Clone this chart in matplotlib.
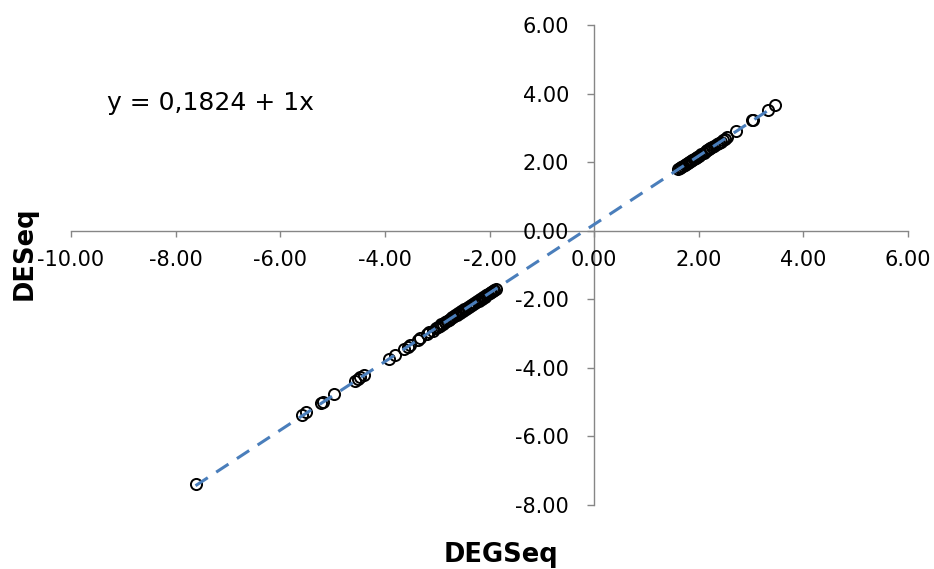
import matplotlib
matplotlib.use("Agg")
import matplotlib.pyplot as plt
import numpy as np
from matplotlib.ticker import FormatStrFormatter

# ---- data ----
x_low_sparse = [-7.62, -5.58, -5.51, -5.22, -5.19, -4.97, -4.58, -4.52, -4.47, -4.40,
                -3.92, -3.80, -3.63, -3.56, -3.52, -3.37, -3.33, -3.20, -3.15]
y_low_sparse = [-7.38, -5.38, -5.30, -5.03, -4.99, -4.77, -4.38, -4.33, -4.27, -4.21,
                -3.73, -3.62, -3.45, -3.38, -3.33, -3.19, -3.14, -3.01, -2.96]

x_low_dense = [-3.08, -3.03, -2.99, -2.95, -2.92, -2.88, -2.85, -2.81, -2.78, -2.75,
               -2.72, -2.69, -2.66, -2.63, -2.60, -2.57, -2.54, -2.51, -2.48, -2.45,
               -2.42, -2.39, -2.36, -2.33, -2.30, -2.27, -2.24, -2.21, -2.18, -2.15,
               -2.12, -2.09, -2.06, -2.03, -2.00, -1.97, -1.94, -1.91, -1.88]
y_low_dense = [-2.92, -2.83, -2.80, -2.79, -2.73, -2.71, -2.66, -2.64, -2.59, -2.58,
               -2.53, -2.52, -2.47, -2.46, -2.41, -2.40, -2.35, -2.34, -2.29, -2.28,
               -2.23, -2.22, -2.17, -2.16, -2.11, -2.10, -2.05, -2.04, -1.99, -1.98,
               -1.93, -1.92, -1.87, -1.86, -1.81, -1.80, -1.76, -1.73, -1.70]

x_up_dense = [1.61, 1.64, 1.67, 1.70, 1.73, 1.76, 1.79, 1.82, 1.85, 1.88, 1.91, 1.94,
              1.97, 2.00, 2.05, 2.10, 2.13, 2.16, 2.19, 2.22, 2.26, 2.30, 2.34, 2.38,
              2.42, 2.46, 2.50, 2.54]
y_up_dense = [1.80, 1.83, 1.85, 1.88, 1.92, 1.94, 1.97, 2.01, 2.03, 2.06, 2.10, 2.12,
              2.15, 2.18, 2.23, 2.28, 2.32, 2.34, 2.37, 2.41, 2.44, 2.48, 2.52, 2.56,
              2.60, 2.64, 2.68, 2.72]

x_up_sparse = [2.71, 3.01, 3.04, 3.33, 3.45]
y_up_sparse = [2.92, 3.22, 3.24, 3.53, 3.66]

trend_intercept = 0.1824
trend_slope = 1.0
equation_label = "y = 0,1824 + 1x"

x_ticks = [-10, -8, -6, -4, -2, 0, 2, 4, 6]
y_ticks = [-8, -6, -4, -2, 0, 2, 4, 6]

# ---- plotting ----
xs = np.array(x_low_sparse + x_low_dense + x_up_dense + x_up_sparse)
ys = np.array(y_low_sparse + y_low_dense + y_up_dense + y_up_sparse)

W, H = 934, 569
fig = plt.figure(figsize=(W / 100, H / 100), dpi=100)
ax = fig.add_axes([71 / W, 1 - 505 / H, (908 - 71) / W, (505 - 25) / H])

ax.plot(xs, ys, linestyle="none", marker="o", markersize=8,
        markerfacecolor="none", markeredgecolor="black", markeredgewidth=1.4,
        zorder=3)

tx = np.array([xs.min(), xs.max()])
ax.plot(tx, trend_intercept + trend_slope * tx, color="#4A7EBB", linewidth=2.2,
        linestyle=(0, (4.8, 3.3)), zorder=4)

ax.set_xlim(-10, 6)
ax.set_ylim(-8, 6)
ax.set_xticks(x_ticks)
ax.set_yticks(y_ticks)
ax.xaxis.set_major_formatter(FormatStrFormatter("%.2f"))
ax.yaxis.set_major_formatter(FormatStrFormatter("%.2f"))

for s in ["top", "right"]:
    ax.spines[s].set_visible(False)
ax.spines["left"].set_position(("data", 0))
ax.spines["bottom"].set_position(("data", 0))
for s in ["left", "bottom"]:
    ax.spines[s].set_color("#868686")
    ax.spines[s].set_linewidth(1.0)
    ax.spines[s].set_zorder(1)

ax.tick_params(axis="x", direction="out", length=4, width=1.0, color="#868686",
               labelsize=15, pad=10, labelcolor="black")
ax.tick_params(axis="y", direction="out", length=5, width=1.0, color="#868686",
               labelsize=15, pad=13, labelcolor="black")

fig.text(501 / W, 1 - 555 / H, "DEGSeq", ha="center", va="center",
         fontsize=18.5, fontweight="bold")
fig.text(25 / W, 1 - 253 / H, "DESeq", ha="center", va="center",
         fontsize=18.5, fontweight="bold", rotation=90)
fig.text(107 / W, 1 - 103 / H, equation_label, ha="left", va="center", fontsize=18)

fig.savefig("out.png", dpi=100)
